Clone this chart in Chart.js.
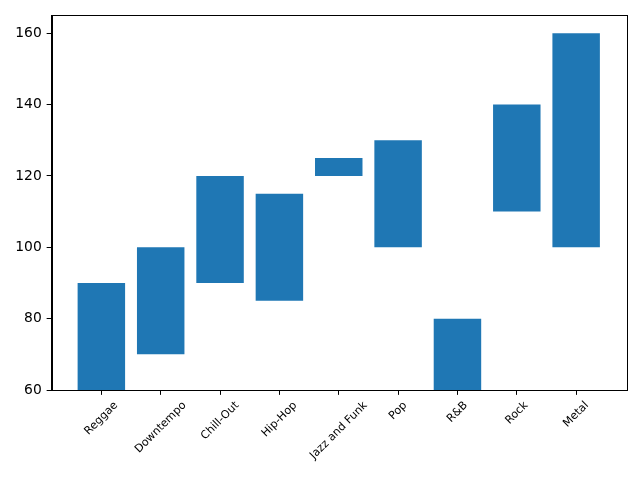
<!DOCTYPE html>
<html>
<head>
<meta charset="utf-8">
<script src="https://cdn.jsdelivr.net/npm/chart.js@4.4.1/dist/chart.umd.min.js"></script>
<style>
  html, body { margin: 0; padding: 0; background: #fff; }
  #wrap { width: 640px; height: 480px; }
</style>
</head>
<body>
<div id="wrap"><canvas id="chart" width="640" height="480"></canvas></div>
<script>
// genres and their tempo ranges (low / high)
const genres = ['Reggae', 'Downtempo', 'Chill-Out', 'Hip-Hop', 'Jazz and Funk', 'Pop', 'R&B', 'Rock', 'Metal'];
const lows = [60, 70, 90, 85, 120, 100, 60, 110, 100];
const highs = [90, 100, 120, 115, 125, 130, 80, 140, 160];
const yTicks = [60, 80, 100, 120, 140, 160];

const FONT = 'DejaVu Sans, sans-serif';
const PT = 100 / 72;

// matplotlib-style frame + centered rotated category labels
const frameAndLabels = {
    id: 'frameAndLabels',
    afterDraw(chart) {
        const { ctx, chartArea: a } = chart;
        const x = chart.scales.x;
        ctx.save();
        ctx.strokeStyle = '#000';
        ctx.lineWidth = 1;
        ctx.strokeRect(Math.round(a.left) + 0.5, Math.round(a.top) + 0.5, Math.round(a.right - a.left), Math.round(a.bottom - a.top));
        ctx.font = (8 * PT).toFixed(2) + 'px ' + FONT;
        ctx.fillStyle = '#000';
        ctx.textAlign = 'center';
        ctx.textBaseline = 'middle';
        const h = 8 * PT;
        genres.forEach((g, i) => {
            const w = ctx.measureText(g).width;
            const side = (w + h) * Math.SQRT1_2;
            const cx = x.getPixelForValue(i);
            const cy = a.bottom + 3.5 * PT + 3.5 * PT + side / 2;
            ctx.save();
            ctx.translate(cx, cy);
            ctx.rotate(-Math.PI / 4);
            ctx.fillText(g, 0, 0);
            ctx.restore();
        });
        ctx.restore();
    }
};

new Chart(document.getElementById('chart'), {
    type: 'bar',
    data: {
        datasets: [{
            data: genres.map((g, i) => ({ x: i, y: [lows[i], highs[i]] })),
            backgroundColor: '#1f77b4',
            borderWidth: 0,
            barPercentage: 0.8,
            categoryPercentage: 1
        }]
    },
    options: {
        responsive: false,
        animation: false,
        layout: { padding: { top: 15, right: 14, left: 0, bottom: 0 } },
        plugins: { legend: { display: false }, tooltip: { enabled: false } },
        scales: {
            x: {
                type: 'linear',
                offset: false,
                min: -0.84,
                max: 8.84,
                afterBuildTicks: s => { s.ticks = genres.map((g, i) => ({ value: i })); },
                afterFit: s => { s.height = 90; },
                ticks: { display: false },
                grid: { offset: false, drawOnChartArea: false, drawTicks: true, tickLength: 3.5 * PT, tickColor: '#000' },
                border: { display: true, color: '#000' }
            },
            y: {
                min: 60,
                max: 165.1,
                afterBuildTicks: s => { s.ticks = yTicks.map(v => ({ value: v })); },
                afterFit: s => { s.width = 51.5; },
                ticks: { color: '#000', padding: 3.5 * PT, font: { family: FONT, size: 10 * PT } },
                grid: { drawOnChartArea: false, drawTicks: true, tickLength: 3.5 * PT, tickColor: '#000' },
                border: { display: true, color: '#000' }
            }
        }
    },
    plugins: [frameAndLabels]
});
</script>
</body>
</html>
